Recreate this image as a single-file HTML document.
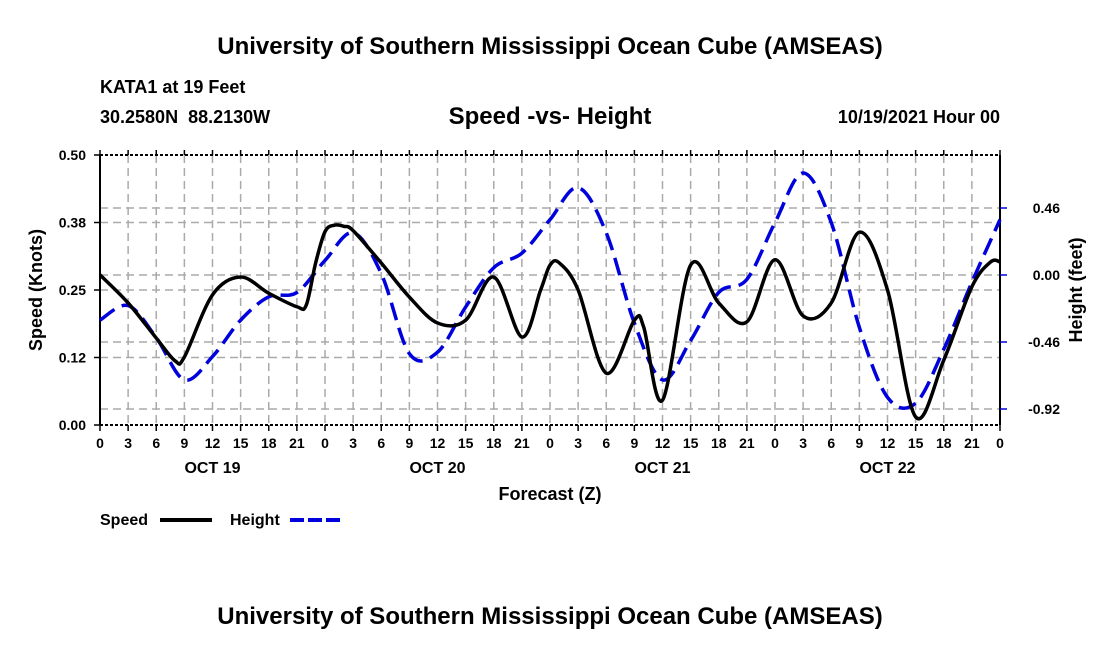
<!DOCTYPE html>
<html><head><meta charset="utf-8"><style>
body{margin:0;background:#fff;width:1100px;height:650px;overflow:hidden}
svg text{font-family:"Liberation Sans",sans-serif;font-weight:bold;fill:#000}
</style></head><body>
<svg id="chart" width="1100" height="650" xmlns="http://www.w3.org/2000/svg">
<text x="550" y="54" font-size="24" text-anchor="middle">University of Southern Mississippi Ocean Cube (AMSEAS)</text>
<text x="100" y="93" font-size="18">KATA1 at 19 Feet</text>
<text x="100" y="123" font-size="18" xml:space="preserve">30.2580N  88.2130W</text>
<text x="550" y="124" font-size="24" text-anchor="middle">Speed -vs- Height</text>
<text x="1000" y="123" font-size="18" text-anchor="end">10/19/2021 Hour 00</text>
<g id="grid"></g><g id="axes"></g><g id="series"></g>
<text x="550" y="500" font-size="18" text-anchor="middle">Forecast (Z)</text>
<text transform="translate(42,290) rotate(-90)" font-size="18" text-anchor="middle">Speed (Knots)</text>
<text transform="translate(1082,290) rotate(-90)" font-size="18" text-anchor="middle">Height (feet)</text>
<g><text x="100" y="525" font-size="16">Speed</text><line x1="160" y1="520" x2="212" y2="520" stroke="#000" stroke-width="4"/></g>
<g><text x="230" y="525" font-size="16">Height</text><line x1="290" y1="520" x2="342" y2="520" stroke="#0000dd" stroke-width="4" stroke-dasharray="14,4"/></g>
<text x="550" y="624" font-size="24" text-anchor="middle">University of Southern Mississippi Ocean Cube (AMSEAS)</text>
</svg>
<script>
const speedHours=[0,3,6,8,9,12,15,18,21,22,23,24,25,26,27,30,33,36,39,42,45,47,48,49,51,54,57,58,60,63,66,69,72,75,78,81,84,87,90,93,95,96];
const speedValues=[0.278,0.226,0.161,0.119,0.126,0.241,0.274,0.244,0.219,0.222,0.300,0.358,0.370,0.368,0.360,0.300,0.237,0.189,0.194,0.274,0.163,0.250,0.296,0.300,0.250,0.096,0.194,0.181,0.046,0.296,0.226,0.191,0.306,0.202,0.226,0.357,0.250,0.015,0.120,0.256,0.302,0.302];
const heightHours=[0,3,6,9,12,15,18,21,24,27,30,33,36,39,42,45,48,51,54,57,60,63,66,69,72,75,78,81,84,87,90,93,96];
const heightValues=[-0.31,-0.21,-0.43,-0.72,-0.56,-0.31,-0.15,-0.12,0.10,0.29,0.01,-0.54,-0.53,-0.22,0.05,0.15,0.38,0.60,0.29,-0.33,-0.72,-0.45,-0.12,-0.03,0.36,0.70,0.36,-0.36,-0.84,-0.88,-0.51,-0.05,0.38];
const leftTicks=[0,0.125,0.25,0.375,0.5];
const leftTickLabels=["0.00","0.12","0.25","0.38","0.50"];
const rightTicks=[0.46,0,-0.46,-0.92];
const rightTickLabels=["0.46","0.00","-0.46","-0.92"];
const dateLabels=["OCT 19","OCT 20","OCT 21","OCT 22"];
const dateHours=[12,36,60,84];
const X0=100,X1=1000,Y0=155,Y1=425;
const xs=h=>X0+(X1-X0)*h/96;
const ys=v=>Y1-(Y1-Y0)*v/0.5;
const yh=v=>275-v*67/0.46;
const NS="http://www.w3.org/2000/svg";
function mk(parent,tag,attrs){const e=document.createElementNS(NS,tag);for(const k in attrs)e.setAttribute(k,attrs[k]);document.getElementById(parent).appendChild(e);return e;}
const dash={stroke:"#aaa","stroke-width":1.5,"stroke-dasharray":"8,5"};
for(let h=3;h<96;h+=3){const l=mk("grid","line",Object.assign({x1:xs(h),x2:xs(h),y1:Y0,y2:Y1},dash));

}
leftTicks.slice(1,4).forEach(v=>{const l=mk("grid","line",Object.assign({x1:X0,x2:X1,y1:ys(v),y2:ys(v)},dash));

});
rightTicks.forEach(v=>{const l=mk("grid","line",Object.assign({x1:X0,x2:X1,y1:yh(v),y2:yh(v)},dash));

});
const topLine=mk("axes","line",{x1:X0,x2:X1,y1:Y0,y2:Y0,stroke:"#000","stroke-width":2,"stroke-dasharray":"3,2"});


const botLine=mk("axes","line",{x1:X0,x2:X1,y1:Y1,y2:Y1,stroke:"#000","stroke-width":2,"stroke-dasharray":"3,2"});


const leftLine=mk("axes","line",{x1:X0,x2:X0,y1:Y0,y2:Y1,stroke:"#000","stroke-width":2});


const rightLine=mk("axes","line",{x1:X1,x2:X1,y1:Y0,y2:Y1,stroke:"#000","stroke-width":2});


for(let h=0;h<=96;h+=3){mk("axes","line",{x1:xs(h),x2:xs(h),y1:Y1,y2:Y1+6,stroke:"#000","stroke-width":1.5});mk("axes","line",{x1:xs(h),x2:xs(h),y1:Y0,y2:Y0-5,stroke:"#000","stroke-width":1.5});
const t=mk("axes","text",{x:xs(h),y:448,"font-size":14,"text-anchor":"middle"});t.textContent=String(h%24);

}
dateLabels.forEach((d,i)=>{const t=mk("axes","text",{x:xs(dateHours[i]),y:473,"font-size":16,"text-anchor":"middle"});t.textContent=d;

});
leftTicks.forEach((v,i)=>{mk("axes","line",{x1:X0-6,x2:X0,y1:ys(v),y2:ys(v),stroke:"#000","stroke-width":1.5});
const t=mk("axes","text",{x:X0-14,y:ys(v)+5,"font-size":14,"text-anchor":"end"});t.textContent=leftTickLabels[i];

});
rightTicks.forEach((v,i)=>{mk("axes","line",{x1:X1,x2:X1+7,y1:yh(v),y2:yh(v),stroke:"#0000dd","stroke-width":1.5});
const t=mk("axes","text",{x:1060,y:yh(v)+5,"font-size":14,"text-anchor":"end"});t.textContent=rightTickLabels[i];

});
function smooth(pts){let d="M"+pts[0][0]+","+pts[0][1];for(let i=0;i<pts.length-1;i++){const p0=pts[Math.max(0,i-1)],p1=pts[i],p2=pts[i+1],p3=pts[Math.min(pts.length-1,i+2)];
d+=" C"+(p1[0]+(p2[0]-p0[0])/6)+","+(p1[1]+(p2[1]-p0[1])/6)+" "+(p2[0]-(p3[0]-p1[0])/6)+","+(p2[1]-(p3[1]-p1[1])/6)+" "+p2[0]+","+p2[1];}return d;}
const hp=mk("series","path",{d:smooth(heightHours.map((h,i)=>[xs(h),yh(heightValues[i])])),fill:"none",stroke:"#0000dd","stroke-width":3.5,"stroke-dasharray":"18,8"});


const sp=mk("series","path",{d:smooth(speedHours.map((h,i)=>[xs(h),ys(speedValues[i])])),fill:"none",stroke:"#000","stroke-width":3.5});


</script>
</body></html>
